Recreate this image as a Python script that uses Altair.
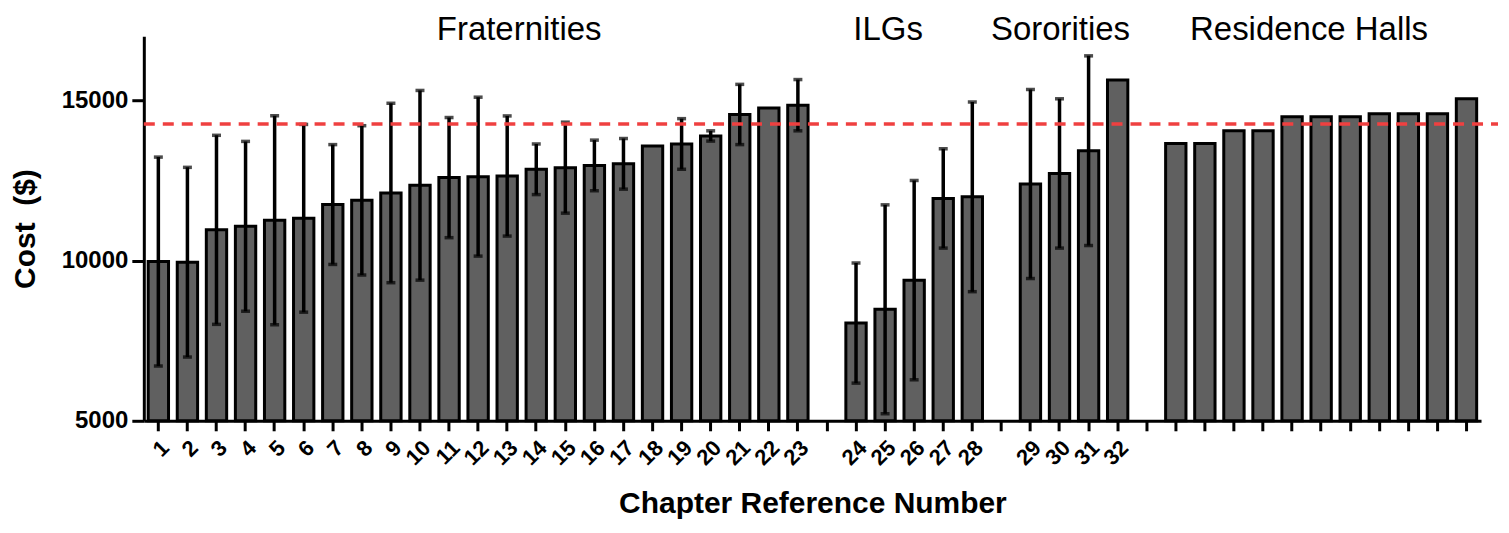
import altair as alt
import pandas as pd

# ---------------- data ----------------
frat_keys = [str(i) for i in range(1, 24)]
ilg_keys = [str(i) for i in range(24, 29)]
soro_keys = [str(i) for i in range(29, 33)]
hall_keys = ["R%d" % i for i in range(1, 12)]

frat_values = [9970, 9950, 10960, 11070, 11260, 11320, 11750, 11880, 12110, 12350,
               12590, 12620, 12640, 12850, 12900, 12970, 13020, 13580, 13640, 13890,
               14560, 14760, 14850]
frat_errors = [3260, 2960, 2950, 2650, 3260, 2930, 1870, 2330, 2800, 2960,
               1875, 2480, 1875, 790, 1420, 790, 790, 0, 790, 160,
               940, 0, 800]
ilg_values = [8050, 8480, 9390, 11940, 11990]
ilg_errors = [1875, 3260, 3110, 1550, 2960]
soro_values = [12390, 12720, 13430, 15635]
soro_errors = [2950, 2330, 2960, 0]
hall_values = [13656, 13656, 14052, 14052, 14490, 14490, 14490, 14583, 14583, 14583, 15052]
hall_errors = [0] * 11

reference_cost = 14260

slot_order = frat_keys + ["g1"] + ilg_keys + ["g2"] + soro_keys + ["g3"] + hall_keys

group_names = ["Fraternities", "ILGs", "Sororities", "Residence Halls"]
group_anchor = ["13", "25", "30", "R5"]

y_ticks = [5000, 10000, 15000]

# ---------------- tables ----------------
keys = frat_keys + ilg_keys + soro_keys + hall_keys
vals = frat_values + ilg_values + soro_values + hall_values
errs = frat_errors + ilg_errors + soro_errors + hall_errors
df = pd.DataFrame({"key": keys, "cost": vals, "err": errs})
df["low"] = df["cost"] - df["err"]
df["high"] = df["cost"] + df["err"]
df_err = df[df["err"] > 0]

df_groups = pd.DataFrame({"key": group_anchor, "name": group_names})
df_ref = pd.DataFrame({"ref": [reference_cost]})

FONT = "Liberation Sans"

x_scale = alt.Scale(domain=slot_order, paddingInner=0.3, paddingOuter=0.15)
y_scale = alt.Scale(domain=[5000, 17000], nice=False, zero=False)

x_enc = alt.X(
    "key:N",
    sort=slot_order,
    scale=x_scale,
    axis=alt.Axis(
        title="Chapter Reference Number",
        labelExpr="(substring(datum.value,0,1) == 'g' || substring(datum.value,0,1) == 'R') ? '' : datum.value",
        labelAngle=315,
        labelOverlap=False,
        labelFlush=False,
    ),
)

def xn():
    return alt.X("key:N", sort=slot_order, scale=x_scale)

bars = alt.Chart(df).mark_bar(fill="#606060", stroke="black", strokeWidth=3).encode(
    x=x_enc,
    y=alt.Y(
        "cost:Q",
        scale=y_scale,
        axis=alt.Axis(
            title="Cost \u00a0($)",
            values=y_ticks,
            format="d",
            grid=False,
        ),
    ),
    y2=alt.datum(5000),
)

err_rule = alt.Chart(df_err).mark_rule(color="black", strokeWidth=3.5).encode(
    x=xn(),
    y=alt.Y("low:Q", scale=y_scale),
    y2="high:Q",
)
cap_low = alt.Chart(df_err).mark_tick(color="black", size=9, thickness=3.5).encode(
    x=xn(),
    y=alt.Y("low:Q", scale=y_scale),
)
cap_high = alt.Chart(df_err).mark_tick(color="black", size=9, thickness=3.5).encode(
    x=xn(),
    y=alt.Y("high:Q", scale=y_scale),
)

ref_line = alt.Chart(df_ref).mark_rule(
    color="#ef4040", strokeWidth=3.5, strokeDash=[11, 8]
).encode(
    y=alt.Y("ref:Q", scale=y_scale),
    x=alt.value(0),
    x2=alt.value(1356),
)

shifts = {"Fraternities": 12, "ILGs": 3, "Sororities": 1, "Residence Halls": 17}
texts = []
for name in group_names:
    t = alt.Chart(df_groups).transform_filter(
        alt.datum.name == name
    ).mark_text(
        font=FONT, fontSize=33, fontWeight="normal", color="black",
        align="center", baseline="alphabetic", dx=shifts[name]
    ).encode(
        x=xn(),
        y=alt.Y(datum=16885, scale=y_scale),
        text="name:N",
    )
    texts.append(t)

chart = alt.layer(bars, err_rule, cap_low, cap_high, ref_line, *texts).properties(
    width=1339,
    height=385,
    autosize=alt.AutoSizeParams(type="none"),
    padding={"left": 136, "top": 28, "right": 20, "bottom": 104},
).configure_view(
    stroke=None
).configure_axis(
    labelFont=FONT,
    titleFont=FONT,
    labelColor="black",
    titleColor="black",
    labelFontWeight="bold",
    titleFontWeight="bold",
    domainColor="black",
    tickColor="black",
    domainWidth=3,
    tickWidth=3,
    grid=False,
).configure_axisX(
    labelFontSize=22,
    labelPadding=6,
    titleFontSize=30,
    titlePadding=20,
    tickSize=10,
).configure_axisY(
    labelFontSize=24,
    labelPadding=4,
    titleFontSize=30,
    titlePadding=21,
    tickSize=12,
)

chart.save("out.html", embed_options={"renderer": "svg", "actions": False})
